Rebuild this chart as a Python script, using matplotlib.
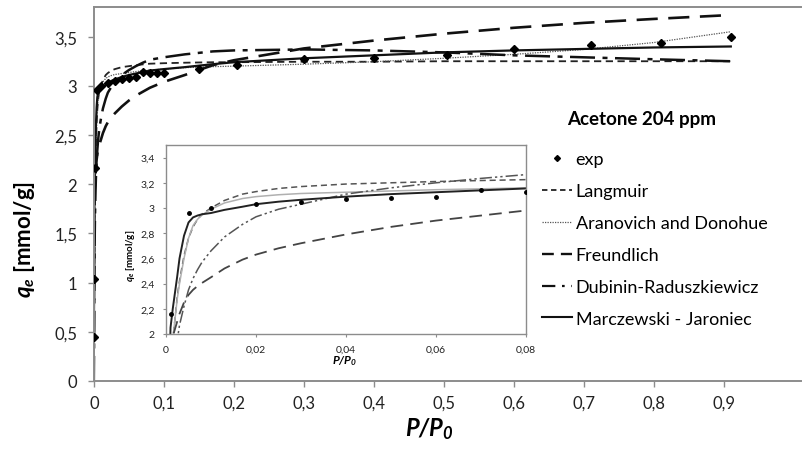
#!/usr/bin/env python3
# -*- coding: utf-8 -*-

from matplotlib import pyplot as plt
from matplotlib.lines import Line2D
from matplotlib.ticker import FuncFormatter, MultipleLocator

## Data section
# experimental points
exp_x = [0.0001, 0.0003, 0.001, 0.005, 0.01, 0.02, 0.03, 0.04, 0.05, 0.06,
         0.07, 0.08, 0.09, 0.1, 0.15, 0.205, 0.3, 0.4, 0.505, 0.6, 0.71,
         0.81, 0.91]
exp_q = [0.45, 1.04, 2.16, 2.96, 3.0, 3.03, 3.05, 3.07, 3.08, 3.09,
         3.14, 3.13, 3.13, 3.13, 3.17, 3.21, 3.27, 3.28, 3.31, 3.37, 3.42,
         3.44, 3.50]

# model curves, all on the same P/P0 grid
p_grid = [0, 0.0003, 0.0006, 0.001, 0.0015, 0.002, 0.0025, 0.003, 0.004,
          0.005, 0.006, 0.007, 0.008, 0.01, 0.013, 0.017, 0.02, 0.025, 0.03,
          0.04, 0.05, 0.06, 0.07, 0.08, 0.1, 0.13, 0.17, 0.2, 0.3, 0.4, 0.5,
          0.6, 0.7, 0.8, 0.91]
q_langmuir = [0.0, 0.6, 1.1, 1.6, 1.95, 2.12, 2.3, 2.42, 2.62,
              2.76, 2.85, 2.91, 2.95, 3.0, 3.06, 3.11, 3.13, 3.155, 3.17,
              3.19, 3.2, 3.21, 3.218, 3.225, 3.23, 3.235, 3.24, 3.24, 3.245,
              3.245, 3.25, 3.25, 3.25, 3.25, 3.25]
q_aranovich = [0.0, 0.5, 1.0, 1.5, 1.95, 2.12, 2.28, 2.4, 2.6,
               2.76, 2.86, 2.91, 2.945, 2.99, 3.04, 3.075, 3.09, 3.105, 3.115,
               3.125, 3.135, 3.145, 3.152, 3.16, 3.17, 3.185, 3.195, 3.2, 3.22,
               3.245, 3.28, 3.32, 3.37, 3.44, 3.55]
q_freundlich = [0.5, 1.4, 1.7, 1.9, 1.98, 2.04, 2.1, 2.16, 2.25,
                2.31, 2.35, 2.38, 2.405, 2.45, 2.52, 2.59, 2.63, 2.68, 2.72,
                2.79, 2.85, 2.9, 2.94, 2.98, 3.04, 3.11, 3.21, 3.26, 3.38,
                3.46, 3.53, 3.59, 3.64, 3.68, 3.72]
q_dubinin = [0.0, 0.3, 0.8, 1.3, 1.6, 1.8, 1.95, 2.07, 2.22,
             2.35, 2.44, 2.51, 2.57, 2.66, 2.77, 2.87, 2.93, 2.99, 3.03,
             3.11, 3.16, 3.2, 3.235, 3.265, 3.29, 3.32, 3.35, 3.36, 3.37,
             3.36, 3.34, 3.31, 3.29, 3.27, 3.25]
q_marczewski = [0.3, 0.9, 1.5, 2.05, 2.2, 2.33, 2.46, 2.6, 2.78,
                2.885, 2.925, 2.94, 2.95, 2.96, 2.985, 3.01, 3.03, 3.05, 3.065,
                3.09, 3.11, 3.125, 3.14, 3.155, 3.17, 3.19, 3.22, 3.24, 3.28,
                3.31, 3.34, 3.36, 3.375, 3.39, 3.40]

legends = ['exp', 'Langmuir', 'Aranovich and Donohue', 'Freundlich',
           'Dubinin-Raduszkiewicz', 'Marczewski - Jaroniec']
title = 'Acetone 204 ppm'

## Config section
plt.rcParams['font.family'] = ['Lato', 'DejaVu Sans']
plt.rcParams['mathtext.fontset'] = 'custom'
plt.rcParams['mathtext.it'] = 'Lato:italic:bold'
plt.rcParams['mathtext.rm'] = 'Lato:bold:italic'
plt.rcParams['mathtext.bf'] = 'Lato:bold'
axis_grey = '#8c8c8c'


def comma(v, pos):
    return ('%g' % v).replace('.', ',')


fig = plt.figure(figsize=(8.02, 4.52), dpi=100)

## Main plot
ax = fig.add_axes([0.117, 0.155, 0.8815, 0.827])
curves = [q_langmuir, q_aranovich, q_freundlich, q_dubinin, q_marczewski]
main_styles = [
    dict(color='#222222', lw=1.3, dashes=(4, 2.5)),
    dict(color='#555555', lw=0.9, dashes=(1, 1)),
    dict(color='#111111', lw=1.9, dashes=(8, 4)),
    dict(color='#111111', lw=1.8, dashes=(10, 3, 2, 3)),
    dict(color='#111111', lw=1.6, linestyle='solid'),
]
ax.plot(exp_x, exp_q, linestyle='none', marker='D', markersize=4,
        color='black', zorder=5)
for q, st, lab in zip(curves, main_styles, legends[1:]):
    ax.plot(p_grid, q, label=lab, **st)

ax.set_xlim(0, 1.01)
ax.set_ylim(0, 3.8)
ax.yaxis.set_major_locator(MultipleLocator(0.5))
ax.xaxis.set_major_formatter(FuncFormatter(comma))
ax.yaxis.set_major_formatter(FuncFormatter(comma))
ax.set_xticks([i / 10 for i in range(10)])
ax.tick_params(labelsize=12, color=axis_grey, length=4, width=1,
               pad=6, labelcolor='#222222')
ax.tick_params(axis='y', pad=8)
for s in ax.spines.values():
    s.set_color(axis_grey)
    s.set_linewidth(1.4)
ax.spines['right'].set_visible(False)
ax.set_xlabel(r'$\mathit{P/P_0}$', fontsize=17)
ax.xaxis.set_label_coords(0.475, -0.092)
ax.set_ylabel(r'$\mathit{q_e}$ [mmol/g]', fontsize=16, fontweight='bold')
ax.yaxis.set_label_coords(-0.08, 0.38)

fig.text(0.8, 0.735, title, fontsize=13.5, fontweight='bold', ha='center',
         va='center')

# legend keys, drawn a bit shorter than the plot dashes so they fit
legend_keys = [
    Line2D([], [], linestyle='none', marker='D', markersize=3, color='black'),
    Line2D([], [], color='#222222', lw=1.3, dashes=(3, 2)),
    Line2D([], [], color='#555555', lw=0.9, dashes=(1, 1)),
    Line2D([], [], color='#111111', lw=1.7, dashes=(5, 3)),
    Line2D([], [], color='#111111', lw=1.6, dashes=(6, 3, 1.2, 3)),
    Line2D([], [], color='#111111', lw=1.5),
]
fig.legend(legend_keys, legends, loc='upper left',
           bbox_to_anchor=(0.667, 0.679), frameon=False, fontsize=13,
           handlelength=1.65, handletextpad=0.2, labelspacing=0.88,
           borderaxespad=0)

## Inset
axi = fig.add_axes([0.207, 0.259, 0.449, 0.418])
inset_styles = [
    dict(color='#555555', lw=1.1, dashes=(4, 2.5)),
    dict(color='#b0b0b0', lw=1.1, linestyle='solid'),
    dict(color='#444444', lw=1.3, dashes=(7, 4)),
    dict(color='#555555', lw=1.1, dashes=(8, 2, 1.5, 2, 1.5, 2)),
    dict(color='#222222', lw=1.4, linestyle='solid'),
]
for q, st in zip(curves, inset_styles):
    axi.plot(p_grid, q, **st)
axi.plot(exp_x, exp_q, linestyle='none', marker='o', markersize=2.5,
         color='black', zorder=5)
axi.set_xlim(0, 0.08)
axi.set_ylim(2, 3.5)
axi.set_xticks([0, 0.02, 0.04, 0.06, 0.08])
axi.set_yticks([2, 2.2, 2.4, 2.6, 2.8, 3.0, 3.2, 3.4])
axi.xaxis.set_major_formatter(FuncFormatter(comma))
axi.yaxis.set_major_formatter(FuncFormatter(comma))
axi.tick_params(labelsize=7.5, color=axis_grey, length=2, width=0.8,
                pad=6, labelcolor='#222222')
for s in axi.spines.values():
    s.set_color(axis_grey)
    s.set_linewidth(1.0)
axi.set_xlabel(r'$\mathit{P/P_0}$', fontsize=8.5)
axi.xaxis.set_label_coords(0.497, -0.1)
axi.set_ylabel(r'$\mathit{q_e}$ [mmol/g]', fontsize=7, fontweight='bold')
axi.yaxis.set_label_coords(-0.08, 0.42)

plt.savefig('out.png', dpi=100)
plt.close()
